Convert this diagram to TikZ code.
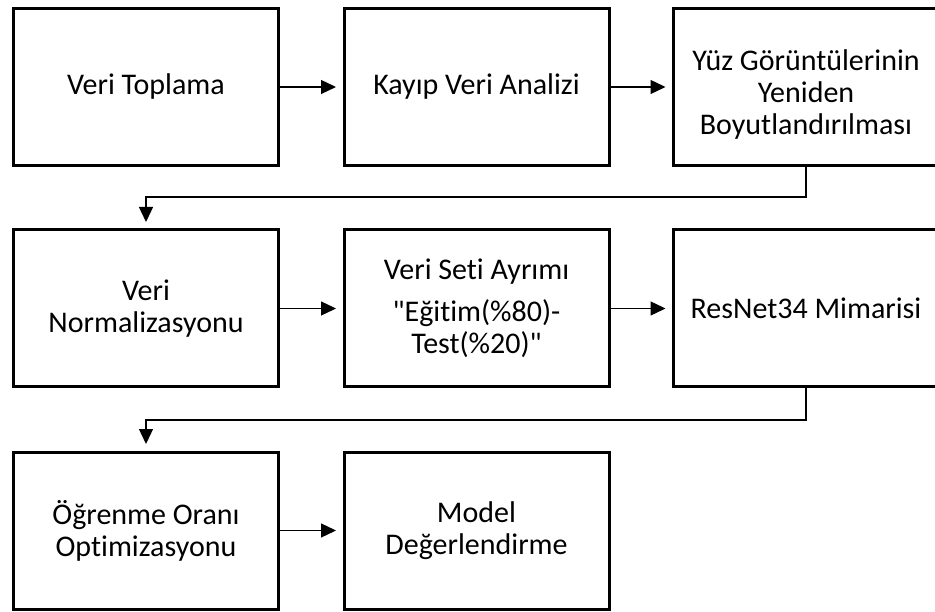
\documentclass[tikz,border=0pt]{standalone}
\usepackage{fontspec}
\setmainfont{Carlito}[Ligatures={TeXOff,NoCommon}]
\usetikzlibrary{arrows.meta}
\begin{document}
\begin{tikzpicture}[x=1pt,y=1pt,
  txt/.style={align=center, font=\fontsize{30}{32}\selectfont},
  box/.style={txt, draw=black, line width=3pt, minimum width=265pt, minimum height=157pt, inner sep=0pt},
  conn/.style={line width=1.3pt, -{Triangle[length=15pt,width=14pt]}, shorten >=6.5pt}
]
\useasboundingbox (0,0) rectangle (935,-612);
\node[box] (b1) at (146,-87) {Veri Toplama};
\node[box] (b2) at (476.5,-87) {Kayıp Veri Analizi};
\node[box] (b3) at (806,-87) {};
\node[txt] (t3) at (806,-95) {Yüz Görüntülerinin\\Yeniden\\Boyutlandırılması};
\node[box] (b4) at (146,-308.5) {Veri\\Normalizasyonu};
\node[box] (b5) at (476.5,-308.5) {Veri Seti Ayrımı\\[10pt]"Eğitim(\%80)-\\Test(\%20)"};
\node[box] (b6) at (806,-308.5) {ResNet34 Mimarisi};
\node[box] (b7) at (146,-530.5) {Öğrenme Oranı\\Optimizasyonu};
\node[box] (b8) at (476.5,-530.5) {Model\\Değerlendirme};
\coordinate (e1) at (0,-197);
\coordinate (e2) at (0,-420);
\draw[conn] (b1.east) -- (b2.west);
\draw[conn] (b2.east) -- (b3.west);
\draw[conn] (b3.south) -- (b3.south |- e1) -| (b4.north);
\draw[conn] (b4.east) -- (b5.west);
\draw[conn] (b5.east) -- (b6.west);
\draw[conn] (b6.south) -- (b6.south |- e2) -| (b7.north);
\draw[conn] (b7.east) -- (b8.west);
\end{tikzpicture}
\end{document}
